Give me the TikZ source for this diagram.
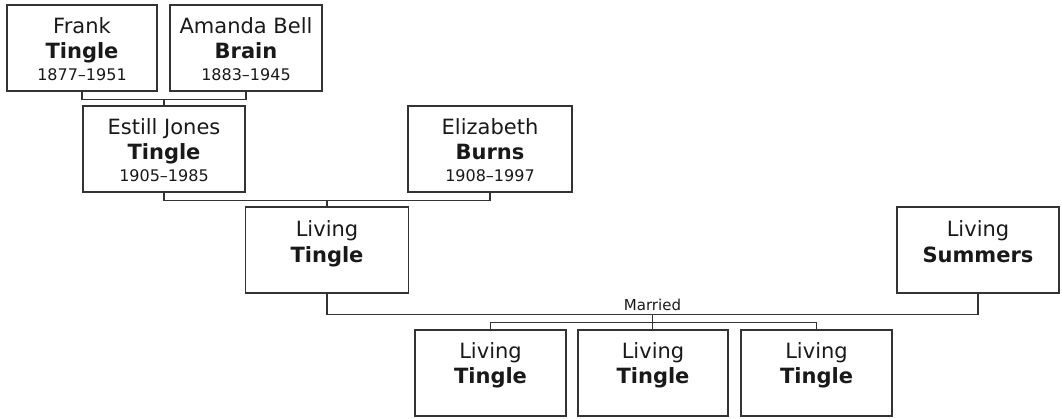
\documentclass[tikz,border=0pt]{standalone}
\usepackage{fontspec}
\setmainfont{DejaVu Sans}
\usetikzlibrary{calc}
\begin{document}
\begin{tikzpicture}[x=1bp,y=-1bp,
 box/.style={draw=black!80, line width=1.1bp, rectangle, minimum height=86bp, inner sep=0pt},
 conn/.style={draw=black!80, line width=1.1bp},
 nm/.style={anchor=base, inner sep=0pt, text=black!90, font=\fontsize{21bp}{25bp}\selectfont},
 sur/.style={nm, font=\fontsize{21bp}{25bp}\selectfont\bfseries},
 yr/.style={anchor=base, inner sep=0pt, text=black!90, font=\fontsize{16bp}{19bp}\selectfont},
]
\useasboundingbox (0,0) rectangle (1062,418);

% boxes
\node[box, minimum width=150bp] (f) at (82,48) {};
\node[box, minimum width=152bp] (a) at (246,48) {};
\node[box, minimum width=162bp] (e) at (164,149) {};
\node[box, minimum width=164bp] (z) at (490,149) {};
\node[box, minimum width=163bp] (p) at (327,250) {};
\node[box, minimum width=162bp] (s) at (978,250) {};
\node[box, minimum width=151bp] (c1) at (490.5,373) {};
\node[box, minimum width=150bp] (c2) at (653,373) {};
\node[box, minimum width=151bp] (c3) at (816.5,373) {};

% texts
\node[nm]  (f1) at ($(f.north)+(0,29)$) {Frank};
\node[sur] (f2) at ($(f.north)+(0,54)$) {Tingle};
\node[yr]  (f3) at ($(f.north)+(0,76)$) {1877–1951};

\node[nm]  (a1) at ($(a.north)+(0,29)$) {Amanda Bell};
\node[sur] (a2) at ($(a.north)+(0,54)$) {Brain};
\node[yr]  (a3) at ($(a.north)+(0,76)$) {1883–1945};

\node[nm]  (e1) at ($(e.north)+(0,29)$) {Estill Jones};
\node[sur] (e2) at ($(e.north)+(0,54)$) {Tingle};
\node[yr]  (e3) at ($(e.north)+(0,76)$) {1905–1985};

\node[nm]  (z1) at ($(z.north)+(0,29)$) {Elizabeth};
\node[sur] (z2) at ($(z.north)+(0,54)$) {Burns};
\node[yr]  (z3) at ($(z.north)+(0,76)$) {1908–1997};

\node[nm]  (p1) at ($(p.north)+(0,30)$) {Living};
\node[sur] (p2) at ($(p.north)+(0,56)$) {Tingle};

\node[nm]  (s1) at ($(s.north)+(0,30)$) {Living};
\node[sur] (s2) at ($(s.north)+(0,56)$) {Summers};

\node[nm]  (c11) at ($(c1.north)+(0,29)$) {Living};
\node[sur] (c12) at ($(c1.north)+(0,54)$) {Tingle};
\node[nm]  (c21) at ($(c2.north)+(0,29)$) {Living};
\node[sur] (c22) at ($(c2.north)+(0,54)$) {Tingle};
\node[nm]  (c31) at ($(c3.north)+(0,29)$) {Living};
\node[sur] (c32) at ($(c3.north)+(0,54)$) {Tingle};

% connectors
\draw[conn] (f.south) -- ++(0,8) -| (a.south);
\coordinate (fa) at ($(f.south)!0.5!(a.south)+(0,8)$);
\draw[conn] (fa) -- (fa |- e.north);

\draw[conn] (e.south) -- ++(0,8) -| (z.south);
\coordinate (ez) at ($(e.south)!0.5!(z.south)+(0,8)$);
\draw[conn] (ez) -- (ez |- p.north);

\draw[conn] (p.south) -- ++(0,21) -| (s.south);
\coordinate (m) at ($(p.south)!0.5!(s.south)+(0,21)$);
\node[yr, font=\fontsize{15bp}{18bp}\selectfont] (ml) at ($(m)+(0,-4)$) {Married};
\draw[conn] (m) -- (m |- c2.north);
\draw[conn] (c1.north) -- ++(0,-7) -| (c3.north);
\end{tikzpicture}
\end{document}
